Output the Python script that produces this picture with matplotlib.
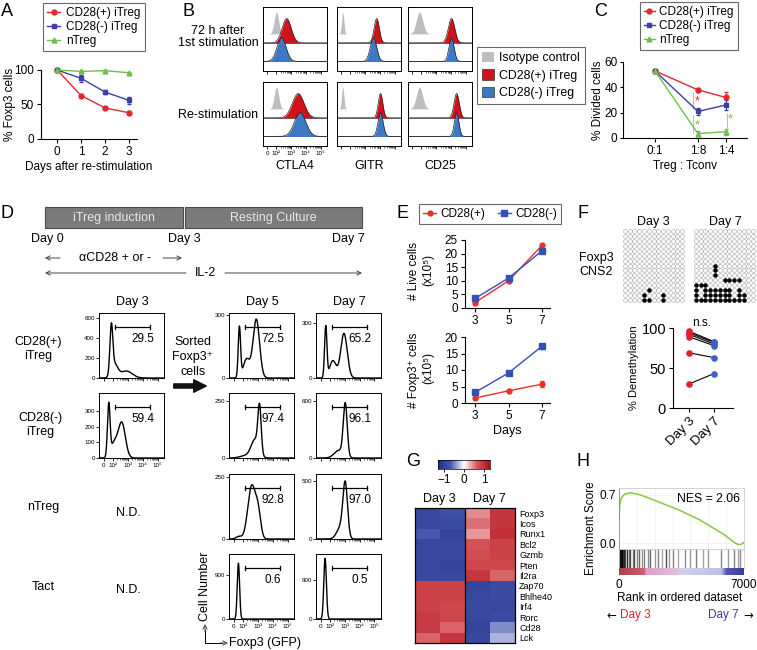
import numpy as np
import matplotlib
matplotlib.use('Agg')
import matplotlib.pyplot as plt
from matplotlib.patches import Rectangle, FancyArrowPatch, Patch
from matplotlib.colors import LinearSegmentedColormap
from matplotlib.lines import Line2D

plt.rcParams['font.family'] = ['Liberation Sans', 'DejaVu Sans']
plt.rcParams['font.size'] = 8.5
plt.rcParams['axes.linewidth'] = 0.8
plt.rcParams['xtick.labelsize'] = 8.5
plt.rcParams['ytick.labelsize'] = 8.5

# ---------------- DATA ----------------
# Panel A
a_days = [0, 1, 2, 3]
a_cd28p = [100, 63, 45, 38]
a_cd28p_err = [0, 2, 2, 2]
a_cd28n = [100, 88, 68, 56]
a_cd28n_err = [0, 5, 3, 5]
a_ntreg = [100, 98, 99, 96]
a_ntreg_err = [0, 1, 1, 1]
series_labels = ['CD28(+) iTreg', 'CD28(-) iTreg', 'nTreg']

# Panel B (flow histograms: peak centre, width on display scale)
b_markers = ['CTLA4', 'GITR', 'CD25']
b_rows = ['72 h after\n1st stimulation', 'Re-stimulation']
b_iso = [[(0.21, 0.035), (0.09, 0.018), (0.18, 0.05)],
         [(0.21, 0.035), (0.09, 0.018), (0.18, 0.05)]]
b_pos = [[(0.37, 0.07), (0.62, 0.04), (0.68, 0.05)],
         [(0.55, 0.09), (0.68, 0.035), (0.76, 0.04)]]
b_neg = [[(0.29, 0.07), (0.57, 0.05), (0.68, 0.04)],
         [(0.58, 0.09), (0.68, 0.04), (0.76, 0.035)]]
b_legend = ['Isotype control', 'CD28(+) iTreg', 'CD28(-) iTreg']

# Panel C
c_x = [0, 1, 1.65]
c_labels = ['0:1', '1:8', '1:4']
c_cd28p = [53, 38, 32]
c_cd28p_err = [1, 1.5, 4]
c_cd28n = [53, 21, 26]
c_cd28n_err = [1, 3, 4]
c_ntreg = [53, 3.5, 5]
c_ntreg_err = [1, 2, 2.5]

# Panel D (Foxp3 histograms: list of peaks (centre, width, height))
d_row_labels = ['CD28(+)\niTreg', 'CD28(-)\niTreg', 'nTreg', 'Tact']
d_col_labels = ['Day 3', 'Day 5', 'Day 7']
d_hists = [
    # row, col, peaks, ymax, yticks, gate value
    (0, 0, [(0.19, 0.022, 470), (0.24, 0.05, 130), (0.42, 0.09, 70)], 650, [0, 200, 400, 600], '29.5'),
    (0, 1, [(0.16, 0.018, 240), (0.42, 0.05, 280), (0.27, 0.05, 90)], 310, [0, 300], '72.5'),
    (0, 2, [(0.15, 0.018, 280), (0.43, 0.05, 245), (0.26, 0.05, 95)], 357, [0, 300], '65.2'),
    (1, 0, [(0.15, 0.02, 330), (0.35, 0.055, 225), (0.23, 0.05, 90)], 415, [0, 100, 200, 300], '59.4'),
    (1, 1, [(0.47, 0.025, 200), (0.40, 0.06, 80), (0.25, 0.08, 10)], 287, [0, 250], '97.4'),
    (1, 2, [(0.45, 0.03, 560), (0.35, 0.07, 80)], 690, [0, 600], '96.1'),
    (2, 1, [(0.35, 0.06, 215), (0.45, 0.04, 90), (0.15, 0.04, 10)], 263, [0, 250], '92.8'),
    (2, 2, [(0.45, 0.035, 450), (0.38, 0.06, 100)], 562, [0, 500], '97.0'),
    (3, 1, [(0.145, 0.018, 1150)], 1340, [0, 900], '0.6'),
    (3, 2, [(0.14, 0.02, 1400)], 1500, [0, 900], '0.5'),
]

# Panel E
e_days = [3, 5, 7]
e_live_cd28p = [2, 10, 23]
e_live_cd28n = [3.5, 11, 21]
e_foxp3_cd28p = [1.5, 3.7, 5.7]
e_foxp3_cd28p_err = [0.3, 0.5, 1.0]
e_foxp3_cd28n = [3.2, 9.1, 17.2]
e_foxp3_cd28n_err = [0.3, 0.5, 0.8]

# Panel F
f_day3_filled = [(0, 4), (0, 5), (0, 8), (1, 4), (1, 8), (2, 5)]
f_day7_filled = ([(0, c) for c in range(11)] +
                 [(1, c) for c in [0, 2, 3, 4, 5, 6, 7, 9, 10]] +
                 [(2, c) for c in [0, 2, 3, 4, 5, 6, 7, 9]] +
                 [(3, c) for c in [0, 1, 2]] +
                 [(4, c) for c in [6, 7, 8, 9]] +
                 [(5, 4), (6, 4), (7, 4)])
f_day3 = [96, 94, 92, 89, 69, 30]
f_day7 = [83, 82, 80, 78, 63, 43]

# Panel G
g_genes = ['Foxp3', 'Icos', 'Runx1', 'Bcl2', 'Gzmb', 'Pten', 'Il2ra',
           'Zap70', 'Bhlhe40', 'Irf4', 'Rorc', 'Cd28', 'Lck']
g_values = [[-0.9, -0.8, 0.45, 0.95],
            [-0.9, -0.85, 0.55, 0.95],
            [-0.7, -0.95, 0.4, 1.0],
            [-0.9, -0.9, 0.7, 0.85],
            [-0.9, -0.9, 0.75, 0.85],
            [-0.9, -0.95, 0.8, 0.8],
            [-0.9, -0.9, 0.95, 0.6],
            [0.85, 0.85, -0.95, -0.85],
            [0.85, 0.85, -0.9, -0.85],
            [0.85, 0.8, -0.9, -0.9],
            [0.9, 0.8, -0.9, -0.85],
            [0.9, 0.6, -0.95, -0.45],
            [0.6, 0.95, -0.9, -0.3]]

# Panel H
h_rank = [0, 40, 120, 300, 650, 1200, 2000, 3360, 4500, 5900, 6400, 6640, 6850, 7000]
h_es = [0.35, 0.55, 0.65, 0.71, 0.73, 0.70, 0.62, 0.48, 0.34, 0.12, 0.02, -0.02, -0.02, 0.01]
h_hits = [20, 60, 100, 150, 200, 260, 330, 420, 540, 640, 760, 850, 980, 1100, 1280,
          1400, 1600, 1750, 2000, 2200, 2400, 2650, 2780, 3000, 3300, 3700, 4000, 4300,
          4700, 5000, 5700, 6100, 6450, 6650, 6800]
h_hit_gray = [0.0, 0.05, 0.1, 0.0, 0.2, 0.1, 0.3, 0.2, 0.4, 0.3, 0.5, 0.3, 0.5, 0.4, 0.6,
              0.5, 0.55, 0.4, 0.6, 0.5, 0.65, 0.3, 0.6, 0.5, 0.65, 0.55, 0.6, 0.5,
              0.65, 0.6, 0.55, 0.6, 0.5, 0.65, 0.55]

# ---------------- STYLE ----------------
RED = '#E2282C'
BLUE = '#3D3EA8'
GREEN = '#72BE4A'
ERED = '#E5312B'
EBLUE = '#3352B5'
BRED = '#D0121B'
BBLUE = '#3C78C3'
BGREY = '#BEBEBE'

W, H = 757, 650
fig = plt.figure(figsize=(W / 100, H / 100), dpi=100)


def add_ax(x0, y0, x1, y1, **kw):
    return fig.add_axes([x0 / W, 1 - y1 / H, (x1 - x0) / W, (y1 - y0) / H], **kw)


def prism(ax):
    for s in ['top', 'right']:
        ax.spines[s].set_visible(False)
    ax.tick_params(direction='out', length=3, width=0.8, pad=2)


def fig_legend(handles, labels, x, y, fs, **kw):
    leg = fig.legend(handles, labels, loc='upper left', bbox_to_anchor=(x / W, 1 - y / H),
                     bbox_transform=fig.transFigure, fancybox=False, edgecolor='#444444',
                     fontsize=fs, borderaxespad=0, **kw)
    leg.get_frame().set_linewidth(0.8)
    return leg


FLOW_TICK_POS = [0.07, 0.21, 0.44, 0.67, 0.90]
FLOW_TICK_LAB = ['0', '10²', '10³', '10⁴', '10⁵']


def flow_xticks(ax, show):
    ax.set_xticks(FLOW_TICK_POS)
    minors = []
    for a, b in zip(FLOW_TICK_POS[1:-1], FLOW_TICK_POS[2:]):
        for m in range(2, 10):
            minors.append(a + (b - a) * np.log10(m))
    ax.set_xticks(minors, minor=True)
    ax.tick_params(axis='x', which='major', length=2.2, width=0.6, pad=1.5, labelsize=4.5)
    ax.tick_params(axis='x', which='minor', length=1.2, width=0.4)
    ax.set_xticklabels(FLOW_TICK_LAB if show else [])


def peaks_curve(x, peaks):
    y = np.zeros_like(x)
    for p in peaks:
        c, s = p[0], p[1]
        h = p[2] if len(p) > 2 else 1.0
        y += h * np.exp(-0.5 * ((x - c) / s) ** 2)
    return y


# overlay for free text
axo = fig.add_axes([0, 0, 1, 1], zorder=10)
axo.set_xlim(0, W)
axo.set_ylim(H, 0)
axo.axis('off')
axo.patch.set_alpha(0)


def t(x, y, s, **kw):
    kw.setdefault('ha', 'center')
    kw.setdefault('va', 'center')
    return axo.text(x, y, s, **kw)


# panel letters
for L, (x, y) in {'A': (7, 11), 'B': (188, 11), 'C': (601, 12), 'D': (7, 214),
                  'E': (402, 214), 'F': (583, 214), 'G': (413, 461), 'H': (583, 461)}.items():
    t(x, y, L, fontsize=13)

# ---------------- PANEL A ----------------
axA = add_ax(41, 70, 137, 139)
prism(axA)
for vals, err, c, m, ms in [(a_cd28p, a_cd28p_err, RED, 'o', 3.5),
                            (a_cd28n, a_cd28n_err, BLUE, 's', 3.5),
                            (a_ntreg, a_ntreg_err, GREEN, '^', 3.5)]:
    axA.errorbar(a_days, vals, yerr=err, color=c, marker=m, ms=ms, lw=1,
                 elinewidth=0.8, capsize=1.5, clip_on=False)
axA.set_xlim(-0.67, 3.33)
axA.set_ylim(0, 100)
axA.set_yticks([0, 50, 100])
axA.set_xticks(a_days)
t(10, 104, '% Foxp3 cells', rotation=90)
axA.set_xlabel('Days after re-stimulation', labelpad=2)
hA = [Line2D([0], [0], color=RED, marker='o', ms=3.5, lw=1),
      Line2D([0], [0], color=BLUE, marker='s', ms=3.5, lw=1),
      Line2D([0], [0], color=GREEN, marker='^', ms=3.5, lw=1)]
fig_legend(hA, series_labels, 43, 3, 8.5, handlelength=1.1, handletextpad=0.5,
           borderpad=0.35, labelspacing=0.15)

# ---------------- PANEL B ----------------
bx = [263, 337, 408]
by = [7, 82]
xs = np.linspace(0, 1, 400)
for r in range(2):
    for c in range(3):
        ax = add_ax(bx[c], by[r], bx[c] + 64, by[r] + 64)
        ax.set_xlim(0, 1)
        ax.set_ylim(0, 1)
        ax.axhline(0.44, color='#666666', lw=0.7, zorder=1)
        ax.axhline(0.15, color='#666666', lw=0.7, zorder=1)
        g = peaks_curve(xs, [b_iso[r][c]])
        ax.fill_between(xs, 0.58, 0.58 + 0.34 * g, color=BGREY, lw=0, zorder=2)
        g = peaks_curve(xs, [b_pos[r][c]])
        ax.fill_between(xs, 0.44, 0.44 + 0.38 * g, color=BRED, lw=0, zorder=3)
        ax.plot(xs, 0.44 + 0.38 * g, color='#222222', lw=0.5, zorder=3)
        g = peaks_curve(xs, [b_neg[r][c]])
        ax.fill_between(xs, 0.15, 0.15 + 0.37 * g, color=BBLUE, lw=0, zorder=4)
        ax.plot(xs, 0.15 + 0.37 * g, color='#222222', lw=0.5, zorder=4)
        ax.set_yticks([])
        flow_xticks(ax, r == 1 and c == 0)
        for s in ax.spines.values():
            s.set_linewidth(0.7)
        if r == 1:
            t(bx[c] + 32, 166, b_markers[c], fontsize=9)
t(218, 37, b_rows[0], fontsize=9, linespacing=0.95)
t(218, 115, b_rows[1], fontsize=9)
hB = [Patch(facecolor=BGREY, edgecolor='none'),
      Patch(facecolor=BRED, edgecolor='#333333', lw=0.5),
      Patch(facecolor=BBLUE, edgecolor='#333333', lw=0.5)]
fig_legend(hB, b_legend, 477, 47, 8.9, handlelength=1.0, handleheight=0.9,
           handletextpad=0.4, borderpad=0.4, labelspacing=0.4)

# ---------------- PANEL C ----------------
axC = add_ax(623, 62, 747, 138)
prism(axC)
axC.tick_params(axis='y', pad=1.5, length=2.5)
for vals, err, c, m in [(c_cd28p, c_cd28p_err, RED, 'o'),
                        (c_cd28n, c_cd28n_err, BLUE, 's'),
                        (c_ntreg, c_ntreg_err, GREEN, '^')]:
    axC.errorbar(c_x, vals, yerr=err, color=c, marker=m, ms=3.5, lw=1,
                 elinewidth=0.8, capsize=1.5, clip_on=False)
axC.vlines([0.89, 0.89, 1.67], [23, 4, 5], [36, 18, 20], color='#BBBBBB', lw=0.8)
axC.text(0.98, 29, '*', color=RED, fontsize=9, ha='center', va='center')
axC.text(0.98, 10, '*', color=GREEN, fontsize=9, ha='center', va='center')
axC.text(1.76, 15, '*', color=GREEN, fontsize=9, ha='center', va='center')
axC.set_xlim(-0.74, 2.14)
axC.set_ylim(0, 60)
axC.set_yticks([0, 20, 40, 60])
axC.set_xticks(c_x)
axC.set_xticklabels(c_labels)
t(598, 100, '% Divided cells', rotation=90)
axC.set_xlabel('Treg : Tconv', labelpad=2)
fig_legend(hA, series_labels, 640, 2, 8.5, handlelength=0.9, handletextpad=0.4,
           borderpad=0.35, labelspacing=0.15)

# ---------------- PANEL D ----------------
axo.add_patch(Rectangle((45, 207), 138, 21, fc='#7B7B7B', ec='#4A4A4A', lw=0.8))
axo.add_patch(Rectangle((185, 207), 177, 21, fc='#7B7B7B', ec='#4A4A4A', lw=0.8))
t(114, 217.5, 'iTreg induction', color='#E8E8E8', fontsize=9)
t(273, 217.5, 'Resting Culture', color='#E8E8E8', fontsize=9)
t(47, 239, 'Day 0', fontsize=9)
t(184, 239, 'Day 3', fontsize=9)
t(348, 239, 'Day 7', fontsize=9)
ap = dict(arrowstyle='->,head_length=0.35,head_width=0.18', color='#444444', lw=0.7,
          shrinkA=0, shrinkB=0)
axo.annotate('', xy=(45, 258), xytext=(60, 258), arrowprops=ap)
axo.annotate('', xy=(182, 258), xytext=(163, 258), arrowprops=ap)
t(115, 258, 'αCD28 + or -', fontsize=9)
axo.annotate('', xy=(45, 273), xytext=(186, 273), arrowprops=ap)
axo.annotate('', xy=(362, 273), xytext=(225, 273), arrowprops=ap)
t(205, 273, 'IL-2', fontsize=9)

dx = [99, 229, 316]
dy = [313, 393, 474, 554]
for c, lab in enumerate(d_col_labels):
    t(dx[c] + 33 if c else 132, 302, lab, fontsize=9)
for r, lab in enumerate(d_row_labels):
    t([38, 40, 43, 43][r], [349, 425, 507, 587][r], lab, fontsize=9, linespacing=1.3)
t(128, 513, 'N.D.', fontsize=9)
t(128, 590, 'N.D.', fontsize=9)
t(193, 357, 'Sorted\nFoxp3⁺\ncells', fontsize=9, linespacing=1.3)
axo.add_patch(FancyArrowPatch((171, 386), (209, 386),
                              arrowstyle='simple,head_length=0.9,head_width=0.9,tail_width=0.3',
                              mutation_scale=10, color='#111111'))

for (r, c, peaks, ymax, yt, val) in d_hists:
    ax = add_ax(dx[c], dy[r], dx[c] + 65, dy[r] + 65)
    yv = peaks_curve(xs, peaks)
    ax.plot(xs, yv, color='black', lw=1.0)
    ax.set_xlim(0, 1)
    ax.set_ylim(0, ymax)
    ax.set_yticks(yt)
    ax.set_yticklabels([str(v) for v in yt])
    ax.tick_params(axis='y', length=2, width=0.6, pad=1, labelsize=4.5)
    flow_xticks(ax, (r == 1 and c == 0) or r == 3)
    for s in ax.spines.values():
        s.set_linewidth(0.7)
    gy = 0.79 * ymax
    ax.plot([0.24, 0.78], [gy, gy], color='black', lw=0.9)
    ax.plot([0.24, 0.24], [gy - 0.03 * ymax, gy + 0.03 * ymax], color='black', lw=0.9)
    ax.plot([0.78, 0.78], [gy - 0.03 * ymax, gy + 0.03 * ymax], color='black', lw=0.9)
    ax.text(0.68, 0.6 * ymax, val, ha='center', va='center', fontsize=8.5)

t(205, 586, 'Cell Number', rotation=90, fontsize=9)
axo.plot([205, 205, 222], [630, 643, 643], color='black', lw=0.7)
axo.annotate('', xy=(205, 624), xytext=(205, 632), arrowprops=ap)
axo.annotate('', xy=(228, 643), xytext=(220, 643), arrowprops=ap)
t(229, 643, 'Foxp3 (GFP)', ha='left', fontsize=9)

# ---------------- PANEL E ----------------
axE1 = add_ax(465, 240, 550, 308)
prism(axE1)
axE1.plot(e_days, e_live_cd28p, color=ERED, marker='o', ms=3.5, lw=1)
axE1.plot(e_days, e_live_cd28n, color=EBLUE, marker='s', ms=3.8, lw=1)
axE1.set_xlim(2.4, 7.48)
axE1.set_ylim(0, 25)
axE1.set_yticks([0, 5, 10, 15, 20, 25])
axE1.set_xticks(e_days)
axE2 = add_ax(465, 337, 550, 403)
prism(axE2)
axE2.errorbar(e_days, e_foxp3_cd28p, yerr=e_foxp3_cd28p_err, color=ERED, marker='o', ms=3.5,
              lw=1, elinewidth=0.8, capsize=1.5)
axE2.errorbar(e_days, e_foxp3_cd28n, yerr=e_foxp3_cd28n_err, color=EBLUE, marker='s', ms=3.8,
              lw=1, elinewidth=0.8, capsize=1.5)
axE2.set_xlim(2.4, 7.48)
axE2.set_ylim(0, 20)
axE2.set_yticks([0, 5, 10, 15, 20])
axE2.set_xticks(e_days)
axE2.set_xlabel('Days', labelpad=2, fontsize=9)
t(414, 271, '# Live cells', rotation=90)
t(428, 270, '(x10⁵)', rotation=90)
t(414, 370, '# Foxp3⁺ cells', rotation=90)
t(428, 368, '(x10⁵)', rotation=90)
hE = [Line2D([0], [0], color=ERED, marker='o', ms=3.5, lw=1),
      Line2D([0], [0], color=EBLUE, marker='s', ms=3.8, lw=1)]
fig_legend(hE, ['CD28(+)', 'CD28(-)'], 419, 204, 8.5, ncol=2, handlelength=1.1,
           handletextpad=0.4, borderpad=0.35, columnspacing=1.0)

# ---------------- PANEL F ----------------
f_rows, f_cols = 15, 13
for (x0, filled) in [(622, f_day3_filled), (693, f_day7_filled)]:
    ax = add_ax(x0, 228, x0 + 63, 303)
    ax.set_xlim(-0.6, f_cols - 0.4)
    ax.set_ylim(-0.6, f_rows - 0.4)
    ax.axis('off')
    gx, gy = np.meshgrid(np.arange(f_cols), np.arange(f_rows))
    ax.scatter(gx.ravel(), gy.ravel(), s=8, facecolor='white', edgecolor='#888888', lw=0.3)
    fr = [p[0] for p in filled]
    fc = [p[1] for p in filled]
    ax.scatter(fc, fr, s=8, facecolor='black', edgecolor='black', lw=0.3)
t(653, 222, 'Day 3', fontsize=9)
t(725, 222, 'Day 7', fontsize=9)
t(596, 265, 'Foxp3\nCNS2', fontsize=9, linespacing=1.2)

axF = add_ax(673, 328, 733, 408)
prism(axF)
for a, b in zip(f_day3, f_day7):
    axF.plot([0, 1], [a, b], color='black', lw=0.8, zorder=2)
axF.scatter([0] * len(f_day3), f_day3, color='#E02030', s=14, zorder=3, clip_on=False)
axF.scatter([1] * len(f_day7), f_day7, color='#3F5FC0', s=14, zorder=3, clip_on=False)
axF.set_xlim(-0.64, 1.76)
axF.set_ylim(0, 100)
axF.set_yticks([0, 50, 100])
axF.tick_params(axis='y', labelsize=10.5)
axF.set_xticks([0, 1])
axF.set_xticklabels(['Day 3', 'Day 7'], rotation=45, ha='right', rotation_mode='anchor',
                    fontsize=9.5)
axF.set_ylabel('% Demethylation', fontsize=8, labelpad=2)
axF.text(0.5, 106, 'n.s.', ha='center', va='center', fontsize=8.5, clip_on=False)

# ---------------- PANEL G ----------------
cmap = LinearSegmentedColormap.from_list(
    'hm', [(0, '#1F2A85'), (0.25, '#4A5BB0'), (0.5, '#FFFFFF'), (0.75, '#D8585D'), (1, '#AE1019')])
axCB = add_ax(438, 460, 490, 469)
axCB.imshow(np.linspace(-1.3, 1.3, 256)[None, :], cmap=cmap, vmin=-1.3, vmax=1.3,
            aspect='auto', extent=[-1.3, 1.3, 0, 1])
axCB.set_yticks([])
axCB.set_xticks([-1, 0, 1])
axCB.set_xticklabels(['−1', '0', '1'])
axCB.tick_params(axis='x', length=2, width=0.6, pad=1.5, labelsize=8.5)
for s in axCB.spines.values():
    s.set_linewidth(0.5)

axG = add_ax(415, 508, 515, 643)
axG.imshow(np.array(g_values), cmap=cmap, vmin=-1.3, vmax=1.3, aspect='auto',
           interpolation='nearest')
axG.axvline(1.5, color='black', lw=0.9)
axG.set_xticks([])
axG.set_yticks(range(len(g_genes)))
axG.set_yticklabels(g_genes, fontsize=6.5)
axG.yaxis.tick_right()
axG.tick_params(axis='y', length=0, pad=3)
for s in axG.spines.values():
    s.set_linewidth(0.9)
t(439, 499, 'Day 3', fontsize=9)
t(489, 499, 'Day 7', fontsize=9)

# ---------------- PANEL H ----------------
axH = add_ax(619, 488, 744, 549)
axH.plot(h_rank, h_es, color='#8CC63F', lw=1.1)
axH.set_xlim(0, 7000)
axH.set_ylim(-0.087, 0.80)
axH.set_yticks([0.0, 0.7])
axH.set_yticklabels(['0.0', '0.7'])
axH.set_xticks([])
axH.grid(True, color='#EEEEEE', lw=0.5)
axH.set_xticks(np.arange(1000, 7000, 1000), minor=True)
axH.grid(True, which='minor', axis='x', color='#EEEEEE', lw=0.5)
axH.tick_params(axis='y', length=0, pad=2)
axH.tick_params(axis='x', which='minor', length=0)
for s in axH.spines.values():
    s.set_color('#CCCCCC')
    s.set_linewidth(0.6)
axH.spines['left'].set_color('#888888')
axH.text(0.97, 0.82, 'NES = 2.06', transform=axH.transAxes, ha='right', va='center',
         fontsize=8.8)

axHh = add_ax(619, 549, 744, 568)
axHh.vlines(h_hits, 0, 1, colors=[str(g) for g in h_hit_gray], lw=1.0)
axHh.set_xlim(0, 7000)
axHh.set_ylim(0, 1)
axHh.set_xticks([])
axHh.set_yticks([])
for s in axHh.spines.values():
    s.set_color('#CCCCCC')
    s.set_linewidth(0.6)

rank_cmap = LinearSegmentedColormap.from_list(
    'rk', [(0, '#B23A4A'), (0.2, '#CC6070'), (0.22, '#DDA0C8'), (0.46, '#E6BEDF'),
           (0.5, '#D0D0EE'), (0.82, '#BFC0E8'), (0.86, '#5A5AB5'), (1, '#3838A0')])
axHc = add_ax(619, 568, 744, 575)
axHc.imshow(np.linspace(0, 1, 256)[None, :], cmap=rank_cmap, aspect='auto',
            extent=[0, 7000, 0, 1])
axHc.set_yticks([])
axHc.set_xlim(0, 7000)
axHc.set_xticks([0, 7000])
axHc.set_xticklabels(['0', '7000'])
axHc.tick_params(axis='x', length=0, pad=3, labelsize=8.5)
for s in axHc.spines.values():
    s.set_visible(False)
t(591, 528, 'Enrichment Score', rotation=90, fontsize=8.5)
t(680, 598, 'Rank in ordered dataset', fontsize=8.5)
t(611, 615, '←', fontsize=8.5, family='DejaVu Sans')
t(620, 615, 'Day 3', ha='left', color='#E0202A', fontsize=8.5)
t(739, 615, 'Day 7', ha='right', color='#3A3AA0', fontsize=8.5)
t(748, 615, '→', fontsize=8.5, family='DejaVu Sans')

fig.savefig('out.png', dpi=100)
